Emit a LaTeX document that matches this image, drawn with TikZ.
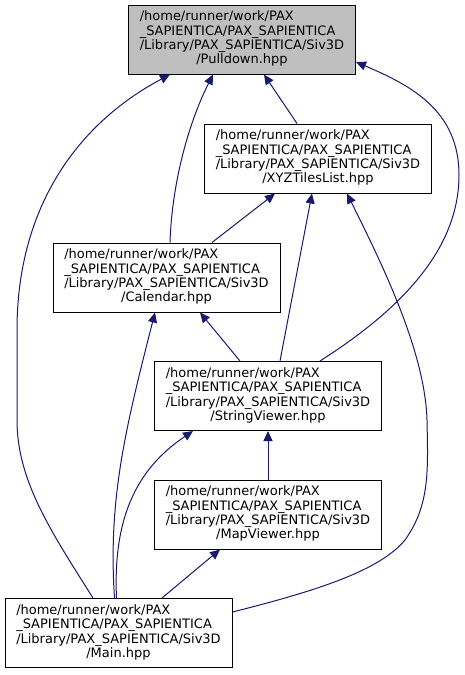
\documentclass[tikz,border=0pt]{standalone}
\usepackage{fontspec}
\setmainfont{DejaVu Sans}
\usetikzlibrary{arrows.meta}
\definecolor{edgeblue}{RGB}{25,25,112}
\definecolor{curgray}{RGB}{191,191,191}
\newcommand{\hppfile}[1]{\begin{tabular}{@{}l@{}}
/home/runner/work/PAX\\
\_SAPIENTICA/PAX\_SAPIENTICA\\
/Library/PAX\_SAPIENTICA/Siv3D\\
\multicolumn{1}{@{}c@{}}{/#1.hpp}\end{tabular}}

\begin{document}
\begin{tikzpicture}[x=1pt,y=-1pt,
  file/.style={draw=black,line width=1pt,minimum width=227pt,minimum height=69pt,
    inner sep=0pt,font=\fontsize{13}{14.3}\selectfont},
  dep/.style={draw=edgeblue,line width=1pt,-{Triangle[length=10pt,width=9pt]}}]
 \useasboundingbox (0,0) rectangle (465,675);
 \node[file,fill=curgray] (pull) at (242,39.5) {\hppfile{Pulldown}};
 \node[file] (xyz) at (318,158.5) {\hppfile{XYZTilesList}};
 \node[file] (cal) at (166.5,277.5) {\hppfile{Calendar}};
 \node[file] (str) at (268,396) {\hppfile{StringViewer}};
 \node[file] (map) at (268,514.5) {\hppfile{MapViewer}};
 \node[file] (main) at (118.5,633) {\hppfile{Main}};

 \draw[dep] ([xshift=-21pt]xyz.north) -- ([xshift=22pt]pull.south);
 \draw[dep] ([xshift=3.5pt]cal.north) .. controls (172,180) and (190,120) .. ([xshift=-29pt]pull.south);
 \draw[dep] ([xshift=52pt]str.north) .. controls (400,310) and (459,250) .. (459,175)
   .. controls (459,110) and (410,85) .. ([yshift=-22.5pt]pull.east);
 \draw[dep] ([xshift=-25.5pt]main.north) .. controls (50,530) and (17,480) .. (17,420) -- (17,330)
   .. controls (17,210) and (75,125) .. ([xshift=-72pt]pull.south);
 \draw[dep] ([xshift=45.5pt]cal.north) -- ([xshift=-43pt]xyz.south);
 \draw[dep] ([xshift=12pt]str.north) -- ([xshift=-6pt]xyz.south);
 \draw[dep] ([yshift=21pt]main.east) .. controls (320,590) and (380,570) .. (405,540)
   .. controls (430,505) and (428,470) .. (427,420)
   .. controls (425,350) and (380,260) .. ([xshift=29pt]xyz.south);
 \draw[dep] ([xshift=-28pt]str.north) -- ([xshift=33.5pt]cal.south);
 \draw[dep] ([xshift=-4pt]main.north) .. controls (108,500) and (125,430) .. ([xshift=-11.5pt]cal.south);
 \draw[dep] (map) -- (str);
 \draw[dep] ([xshift=-2pt]main.north) .. controls (113,520) and (135,470) .. ([xshift=-75pt]str.south);
 \draw[dep] ([xshift=43.5pt]main.north) -- ([xshift=-48pt]map.south);
\end{tikzpicture}
\end{document}
